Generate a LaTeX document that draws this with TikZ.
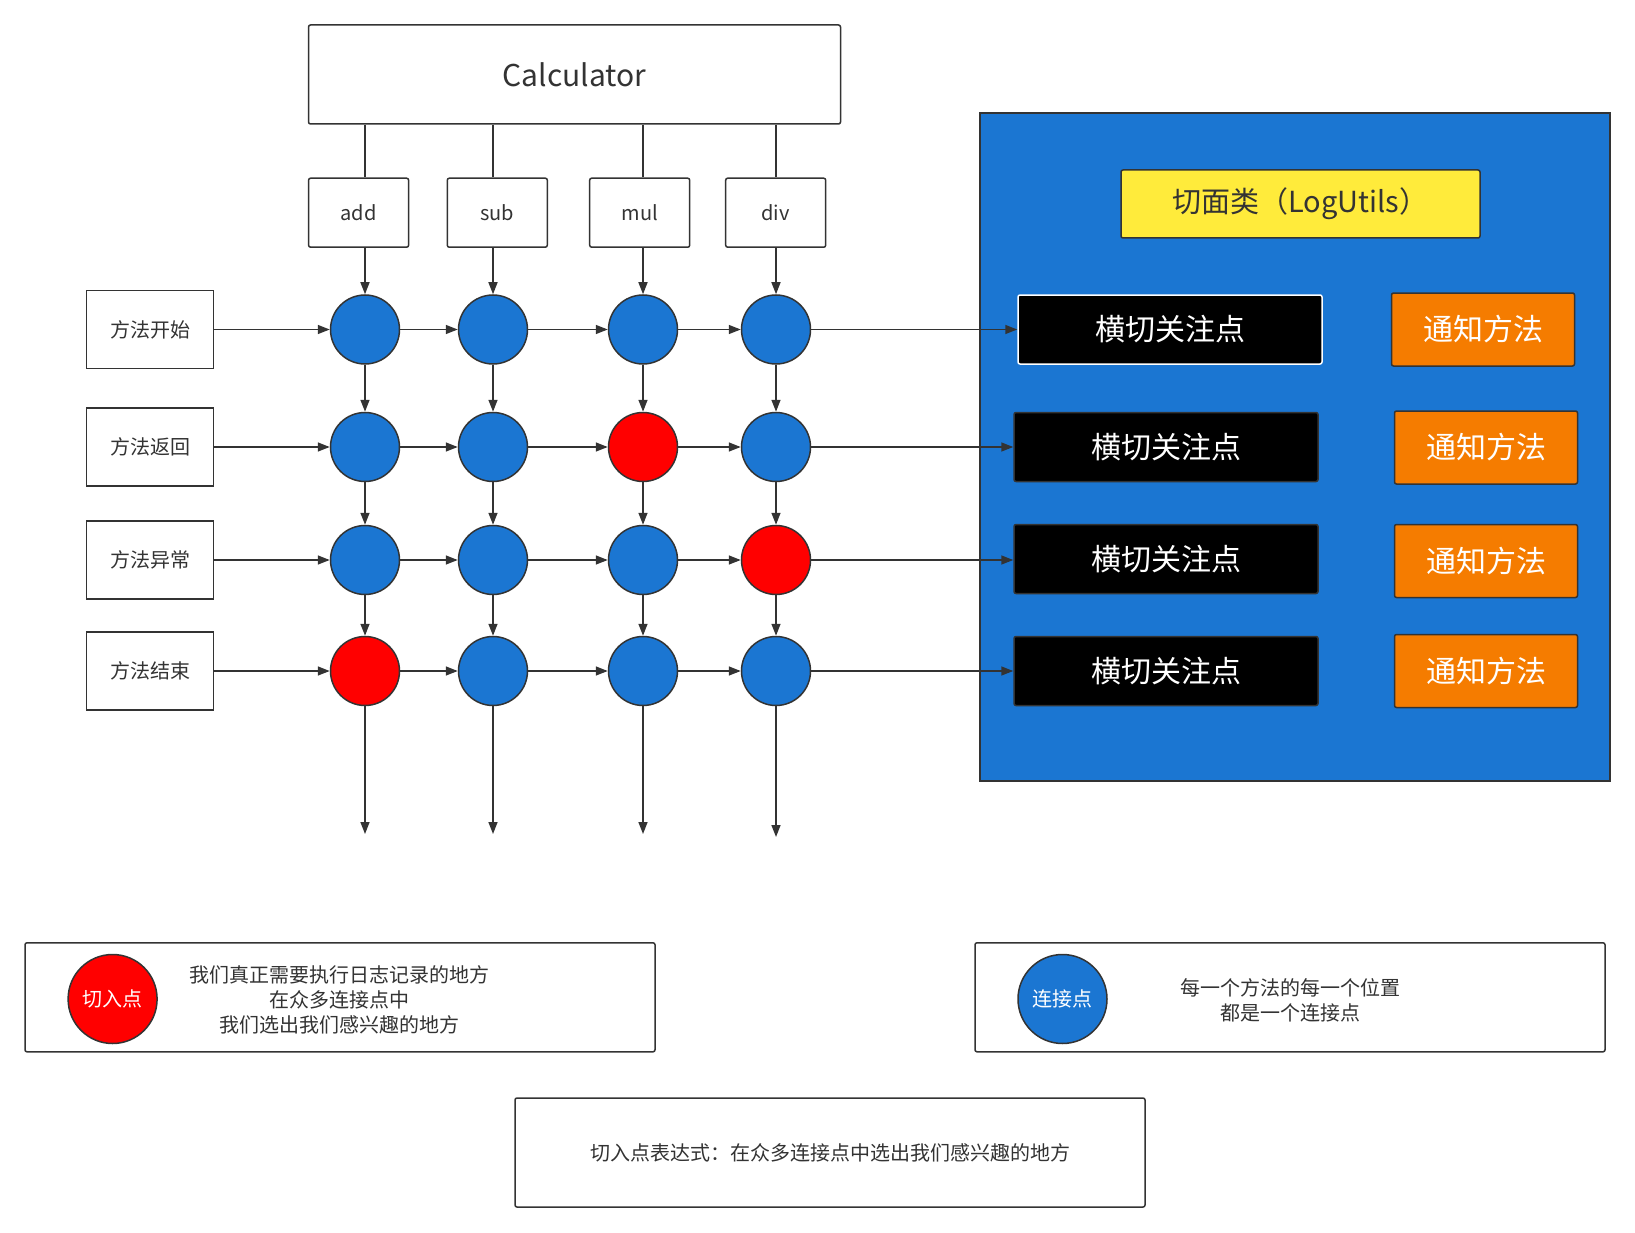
\documentclass[tikz,border=0pt]{standalone}
\usepackage{fontspec}
\setmainfont{Noto Sans CJK SC}
\usetikzlibrary{arrows.meta}
\definecolor{linegray}{HTML}{333333}
\definecolor{aopblue}{HTML}{1B76D2}
\definecolor{aoporange}{HTML}{F57C00}
\definecolor{aopyellow}{HTML}{FFEB3B}

\begin{document}
\begin{tikzpicture}[
    x=1pt, y=-1pt,
    box/.style={draw=linegray, line width=1.5pt, rounded corners=2pt, fill=white, text=linegray, align=center, inner sep=0pt},
    method/.style={box, minimum width=100pt, minimum height=69pt, font=\fontsize{20pt}{24pt}\selectfont},
    phase/.style={box, rounded corners=0pt, minimum width=127pt, minimum height=78pt, font=\fontsize{20pt}{24pt}\selectfont},
    joinpt/.style={circle, draw=linegray, line width=1.5pt, fill=aopblue, minimum size=69pt, inner sep=0pt, text=white, font=\fontsize{20pt}{24pt}\selectfont},
    cutpt/.style={joinpt, fill=red},
    concern/.style={draw=linegray, line width=1.5pt, rounded corners=2pt, fill=black, text=white, minimum width=304pt, minimum height=69pt, font=\fontsize{30pt}{36pt}\selectfont},
    advice/.style={draw=linegray, line width=1.5pt, rounded corners=2pt, fill=aoporange, text=white, minimum width=183pt, minimum height=73pt, font=\fontsize{30pt}{36pt}\selectfont},
    note/.style={box, minimum width=630pt, minimum height=109pt},
    arrow/.style={-{Triangle[length=12pt, width=9pt]}, draw=linegray, line width=1.5pt},
    link/.style={draw=linegray, line width=1.5pt}
]
\useasboundingbox (0,0) rectangle (1635,1233);

% class and its methods
\node[box, minimum width=532pt, minimum height=99pt, font=\fontsize{30pt}{36pt}\selectfont] (calc) at (574.5,74.5) {Calculator};
\node[method] (add) at (358.6,212.7) {add};
\node[method] (sub) at (497.3,212.7) {sub};
\node[method] (mul) at (639.7,212.7) {mul};
\node[method] (div) at (775.7,212.7) {div};

% phases of a call
\node[phase] (start) at (150,329.5) {方法开始};
\node[phase] (return) at (150,447) {方法返回};
\node[phase] (throw) at (150,560) {方法异常};
\node[phase] (finish) at (150,671) {方法结束};

% join points
\node[joinpt] (c11) at (365,329.5) {};
\node[joinpt] (c12) at (493,329.5) {};
\node[joinpt] (c13) at (643,329.5) {};
\node[joinpt] (c14) at (776,329.5) {};
\node[joinpt] (c21) at (365,447) {};
\node[joinpt] (c22) at (493,447) {};
\node[cutpt] (c23) at (643,447) {};
\node[joinpt] (c24) at (776,447) {};
\node[joinpt] (c31) at (365,560) {};
\node[joinpt] (c32) at (493,560) {};
\node[joinpt] (c33) at (643,560) {};
\node[cutpt] (c34) at (776,560) {};
\node[cutpt] (c41) at (365,671) {};
\node[joinpt] (c42) at (493,671) {};
\node[joinpt] (c43) at (643,671) {};
\node[joinpt] (c44) at (776,671) {};

\coordinate (e1) at (365,834);
\coordinate (e2) at (493,834);
\coordinate (e3) at (643,834);
\coordinate (e4) at (776,837);

% aspect class
\node[draw=linegray, line width=2pt, fill=aopblue, minimum width=630pt, minimum height=668pt] (aspect) at (1295,446.8) {};
\node[draw=linegray, line width=1.5pt, rounded corners=2pt, fill=aopyellow, text=linegray, minimum width=359pt, minimum height=68pt, font=\fontsize{29pt}{34pt}\selectfont] (logutils) at (1300.5,204) {切面类（LogUtils）};
\node[concern, draw=white] (bk1) at (1170,329.5) {横切关注点};
\node[concern] (bk2) at (1166,447) {横切关注点};
\node[concern] (bk3) at (1166,559) {横切关注点};
\node[concern] (bk4) at (1166,671) {横切关注点};
\node[advice] (ad1) at (1483,329.5) {通知方法};
\node[advice] (ad2) at (1486,447.5) {通知方法};
\node[advice] (ad3) at (1486,561) {通知方法};
\node[advice] (ad4) at (1486,671) {通知方法};

% connectors
\draw[link] (calc.south -| c11) -- (add.north -| c11);
\draw[link] (calc.south -| c12) -- (sub.north -| c12);
\draw[link] (calc.south -| c13) -- (mul.north -| c13);
\draw[link] (calc.south -| c14) -- (div.north -| c14);

\draw[arrow] (add.south -| c11) -- (c11);
\draw[arrow] (sub.south -| c12) -- (c12);
\draw[arrow] (mul.south -| c13) -- (c13);
\draw[arrow] (div.south -| c14) -- (c14);

\draw[arrow] (c11) -- (c21);
\draw[arrow] (c12) -- (c22);
\draw[arrow] (c13) -- (c23);
\draw[arrow] (c14) -- (c24);
\draw[arrow] (c21) -- (c31);
\draw[arrow] (c22) -- (c32);
\draw[arrow] (c23) -- (c33);
\draw[arrow] (c24) -- (c34);
\draw[arrow] (c31) -- (c41);
\draw[arrow] (c32) -- (c42);
\draw[arrow] (c33) -- (c43);
\draw[arrow] (c34) -- (c44);
\draw[arrow] (c41) -- (e1);
\draw[arrow] (c42) -- (e2);
\draw[arrow] (c43) -- (e3);
\draw[arrow] (c44) -- (e4);

\draw[arrow] (start) -- (c11);
\draw[arrow] (c11) -- (c12);
\draw[arrow] (c12) -- (c13);
\draw[arrow] (c13) -- (c14);
\draw[arrow] (c14) -- (c14 -| bk1.west);
\draw[arrow] (return) -- (c21);
\draw[arrow] (c21) -- (c22);
\draw[arrow] (c22) -- (c23);
\draw[arrow] (c23) -- (c24);
\draw[arrow] (c24) -- (c24 -| bk2.west);
\draw[arrow] (throw) -- (c31);
\draw[arrow] (c31) -- (c32);
\draw[arrow] (c32) -- (c33);
\draw[arrow] (c33) -- (c34);
\draw[arrow] (c34) -- (c34 -| bk3.west);
\draw[arrow] (finish) -- (c41);
\draw[arrow] (c41) -- (c42);
\draw[arrow] (c42) -- (c43);
\draw[arrow] (c43) -- (c44);
\draw[arrow] (c44) -- (c44 -| bk4.west);

% legend
\node[note] (cutnote) at (340,997.3) {};
\node[cutpt, minimum size=89pt] (cutkey) at (112.6,999) {切入点};
\node[text=linegray, align=center, font=\fontsize{20pt}{25pt}\selectfont] (cuttext) at (339,1000) {我们真正需要执行日志记录的地方\\在众多连接点中\\我们选出我们感兴趣的地方};
\node[note] (joinnote) at (1290,997.3) {};
\node[joinpt, minimum size=89pt] (joinkey) at (1062.5,999) {连接点};
\node[text=linegray, align=center, font=\fontsize{20pt}{25pt}\selectfont] (jointext) at (1290,1000) {每一个方法的每一个位置\\都是一个连接点};
\node[note, font=\fontsize{20pt}{25pt}\selectfont] (exprnote) at (830,1152.5) {切入点表达式：在众多连接点中选出我们感兴趣的地方};

\end{tikzpicture}
\end{document}
